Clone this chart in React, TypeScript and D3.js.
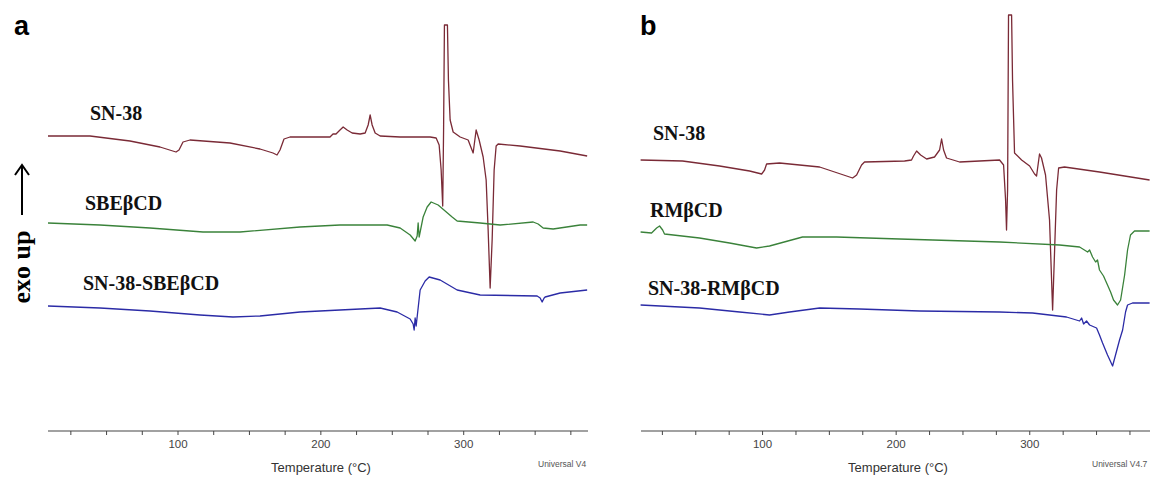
import React from "react";
import * as d3 from "d3";

// Temperature (°C) vs heat flow (arbitrary units, exo up)
type Pt = [number, number];

const panelLabels = ["a", "b"];
const xTicksMajor = [100, 200, 300];
const xTicksMinor = [25, 50, 75, 100, 125, 150, 175, 200, 225, 250, 275, 300, 325, 350, 375];

const leftNames = ["SN-38", "SBEβCD", "SN-38-SBEβCD"];
const rightNames = ["SN-38", "RMβCD", "SN-38-RMβCD"];

const leftSN38: Pt[] = [
  [9, 295], [38.4, 295], [66.4, 290], [87.4, 284], [98.6, 279], [100.7, 281], [103.5, 289], [108.4, 291],
  [136.4, 288], [157.4, 282], [166.5, 278], [169.3, 276], [171.4, 281], [174.2, 292], [178.4, 294],
  [206.4, 294], [208.5, 297], [210.6, 297], [213.4, 301], [215.6, 304], [218.4, 301], [221.9, 298],
  [227.5, 297], [231.0, 298], [233.1, 306], [234.5, 316], [235.9, 306], [238.0, 298], [241.5, 295],
  [255.5, 294], [276.5, 294], [280.7, 293], [282.8, 286], [284.2, 261], [285.3, 225], [285.9, 300],
  [286.5, 406], [288.6, 406], [289.3, 351], [290.5, 311], [292.6, 299], [297.5, 294], [303.1, 291],
  [306.6, 278], [308.7, 301], [310.8, 291], [313.6, 274], [315.7, 251], [317.1, 201], [318.5, 143],
  [319.9, 191], [321.3, 261], [322.7, 285], [324.1, 287], [339.5, 285], [367.5, 280], [386.4, 275],
];

const leftSBE: Pt[] = [
  [9, 208], [45.4, 206], [80.4, 203], [117.5, 199], [143.4, 199], [185.4, 204], [213.4, 206],
  [246.4, 206], [255.5, 203], [262.5, 196], [266.0, 190], [267.4, 195], [268.1, 208], [268.8, 194],
  [271.6, 214], [274.4, 224], [277.2, 229], [282.1, 226], [291.9, 214], [295.4, 210], [311.5, 208],
  [325.5, 206], [348.6, 209], [352.1, 207], [355.6, 203], [362.6, 202], [381.5, 206], [386.4, 206],
];

const leftComplex: Pt[] = [
  [9, 125], [45.4, 123], [80.4, 120], [115.4, 116], [138.5, 114], [157.4, 115], [185.4, 119],
  [213.4, 121], [241.5, 123], [253.4, 119], [262.5, 112], [264.6, 107], [265.3, 101], [266.0, 113],
  [266.7, 105], [269.5, 141], [273.0, 150], [275.8, 154], [283.5, 151], [295.4, 141], [311.5, 136],
  [351.4, 135], [353.5, 133], [354.9, 129], [356.3, 133], [357.0, 134], [367.5, 138], [386.4, 141],
];

const rightSN38: Pt[] = [
  [8.7, 271], [40.1, 270], [67.8, 265], [90.3, 260], [99.3, 257], [101.5, 261], [103.0, 267],
  [112.7, 268], [142.7, 264], [167.4, 253], [170.4, 256], [174.1, 266], [176.3, 269], [206.3, 270],
  [211.5, 271], [213.0, 275], [215.3, 280], [218.3, 276], [222.8, 272], [228.7, 274], [232.5, 281],
  [234.0, 292], [235.5, 281], [237.7, 273], [247.5, 269], [277.4, 271], [280.4, 266], [281.9, 231],
  [282.6, 201], [283.4, 241], [284.1, 416], [286.4, 416], [287.1, 351], [288.6, 278], [293.9, 271],
  [299.9, 265], [303.6, 257], [305.1, 255], [307.3, 277], [308.8, 273], [311.8, 256], [314.8, 211],
  [317.1, 121], [318.6, 181], [320.1, 241], [321.6, 263], [326.0, 264], [352.2, 259], [389.7, 251],
];

const rightRM: Pt[] = [
  [8.7, 199], [16.9, 198], [20.7, 203], [22.9, 205], [25.2, 201], [26.6, 197], [52.8, 193],
  [75.3, 188], [95.5, 183], [105.2, 185], [129.9, 194], [155.4, 194], [202.5, 192], [277.4, 189],
  [322.3, 186], [337.3, 184], [343.3, 179], [344.8, 181], [347.0, 174], [349.3, 169], [350.7, 171],
  [352.2, 161], [355.2, 155], [358.2, 146], [360.5, 139], [362.7, 131], [365.7, 126], [368.0, 131],
  [371.0, 156], [373.2, 181], [375.4, 196], [378.4, 200], [389.7, 200],
];

const rightComplex: Pt[] = [
  [8.7, 126], [52.8, 123], [82.8, 119], [105.2, 116], [120.2, 119], [142.7, 123], [172.6, 122],
  [217.5, 120], [277.4, 119], [302.1, 118], [327.5, 114], [337.3, 110], [338.8, 113], [340.3, 107],
  [342.5, 110], [344.8, 106], [350.0, 103], [352.2, 96], [354.5, 88], [358.2, 76], [362.0, 65],
  [364.2, 76], [367.2, 91], [369.5, 101], [371.7, 119], [373.2, 126], [376.9, 128], [389.7, 128],
];

const seriesColors = ["#7a2a36", "#3a823a", "#2b2ba6"];

const W = 1151;
const H = 477;
const axisY = 431;

const yScale = d3.scaleLinear().domain([0, 431]).range([431, 0]);

type PanelProps = {
  label: string;
  names: string[];
  series: Pt[][];
  domain: [number, number];
  range: [number, number];
  labelPos: { x: number; y: number }[];
  panelLabelX: number;
  titleX: number;
  universal: string;
  universalX: number;
};

function Panel(p: PanelProps) {
  const x = d3.scaleLinear().domain(p.domain).range(p.range);
  const line = d3
    .line<Pt>()
    .x((d) => x(d[0]))
    .y((d) => yScale(d[1]));
  return (
    <g>
      <text x={p.panelLabelX} y={35} fontFamily="Liberation Sans, Arial, sans-serif" fontWeight="bold" fontSize={27} fill="#000">
        {p.label}
      </text>
      {p.series.map((s, i) => (
        <path key={i} d={line(s) || ""} fill="none" stroke={seriesColors[i]} strokeWidth={1.3} strokeLinejoin="round" />
      ))}
      {p.names.map((n, i) => (
        <text key={n + i} x={p.labelPos[i].x} y={p.labelPos[i].y} fontFamily="Liberation Serif, Times New Roman, serif" fontWeight="bold" fontSize={20} fill="#111">
          {n}
        </text>
      ))}
      <line x1={p.range[0]} x2={p.range[1]} y1={axisY} y2={axisY} stroke="#444" strokeWidth={1.2} />
      {xTicksMinor.map((t) => (
        <line key={t} x1={x(t)} x2={x(t)} y1={axisY} y2={axisY + 4} stroke="#444" strokeWidth={1} />
      ))}
      {xTicksMajor.map((t) => (
        <text key={t} x={x(t)} y={448} textAnchor="middle" fontFamily="Liberation Sans, Arial, sans-serif" fontSize={11.5} fill="#444">
          {t}
        </text>
      ))}
      <text x={p.titleX} y={472} textAnchor="middle" fontFamily="Liberation Sans, Arial, sans-serif" fontSize={13} fill="#333">
        Temperature (°C)
      </text>
      <text x={p.universalX} y={467} fontFamily="Liberation Sans, Arial, sans-serif" fontSize={8.5} fill="#555">
        {p.universal}
      </text>
    </g>
  );
}

export default function App() {
  return (
    <svg width={W} height={H} style={{ position: "absolute", left: 0, top: 0, background: "#fff" }}>
      <rect x={0} y={0} width={W} height={H} fill="#fff" />
      <Panel
        label={panelLabels[0]}
        names={leftNames}
        series={[leftSN38, leftSBE, leftComplex]}
        domain={[9, 387]}
        range={[48, 588]}
        labelPos={[
          { x: 90, y: 120 },
          { x: 85, y: 210 },
          { x: 83, y: 290 },
        ]}
        panelLabelX={14}
        titleX={321}
        universal="Universal V4"
        universalX={538}
      />
      <Panel
        label={panelLabels[1]}
        names={rightNames}
        series={[rightSN38, rightRM, rightComplex]}
        domain={[9, 390]}
        range={[641, 1150]}
        labelPos={[
          { x: 653, y: 140 },
          { x: 650, y: 217 },
          { x: 648, y: 295 },
        ]}
        panelLabelX={640}
        titleX={898}
        universal="Universal V4.7"
        universalX={1092}
      />
      {/* exo up arrow */}
      <g>
        <line x1={22} x2={22} y1={215} y2={166} stroke="#000" strokeWidth={2} />
        <path d="M15,175 L22,165 L29,175" fill="none" stroke="#000" strokeWidth={2} />
        <text transform="translate(30,267) rotate(-90)" textAnchor="middle" fontFamily="Liberation Serif, Times New Roman, serif" fontWeight="bold" fontSize={26} fill="#000">
          exo up
        </text>
      </g>
    </svg>
  );
}
